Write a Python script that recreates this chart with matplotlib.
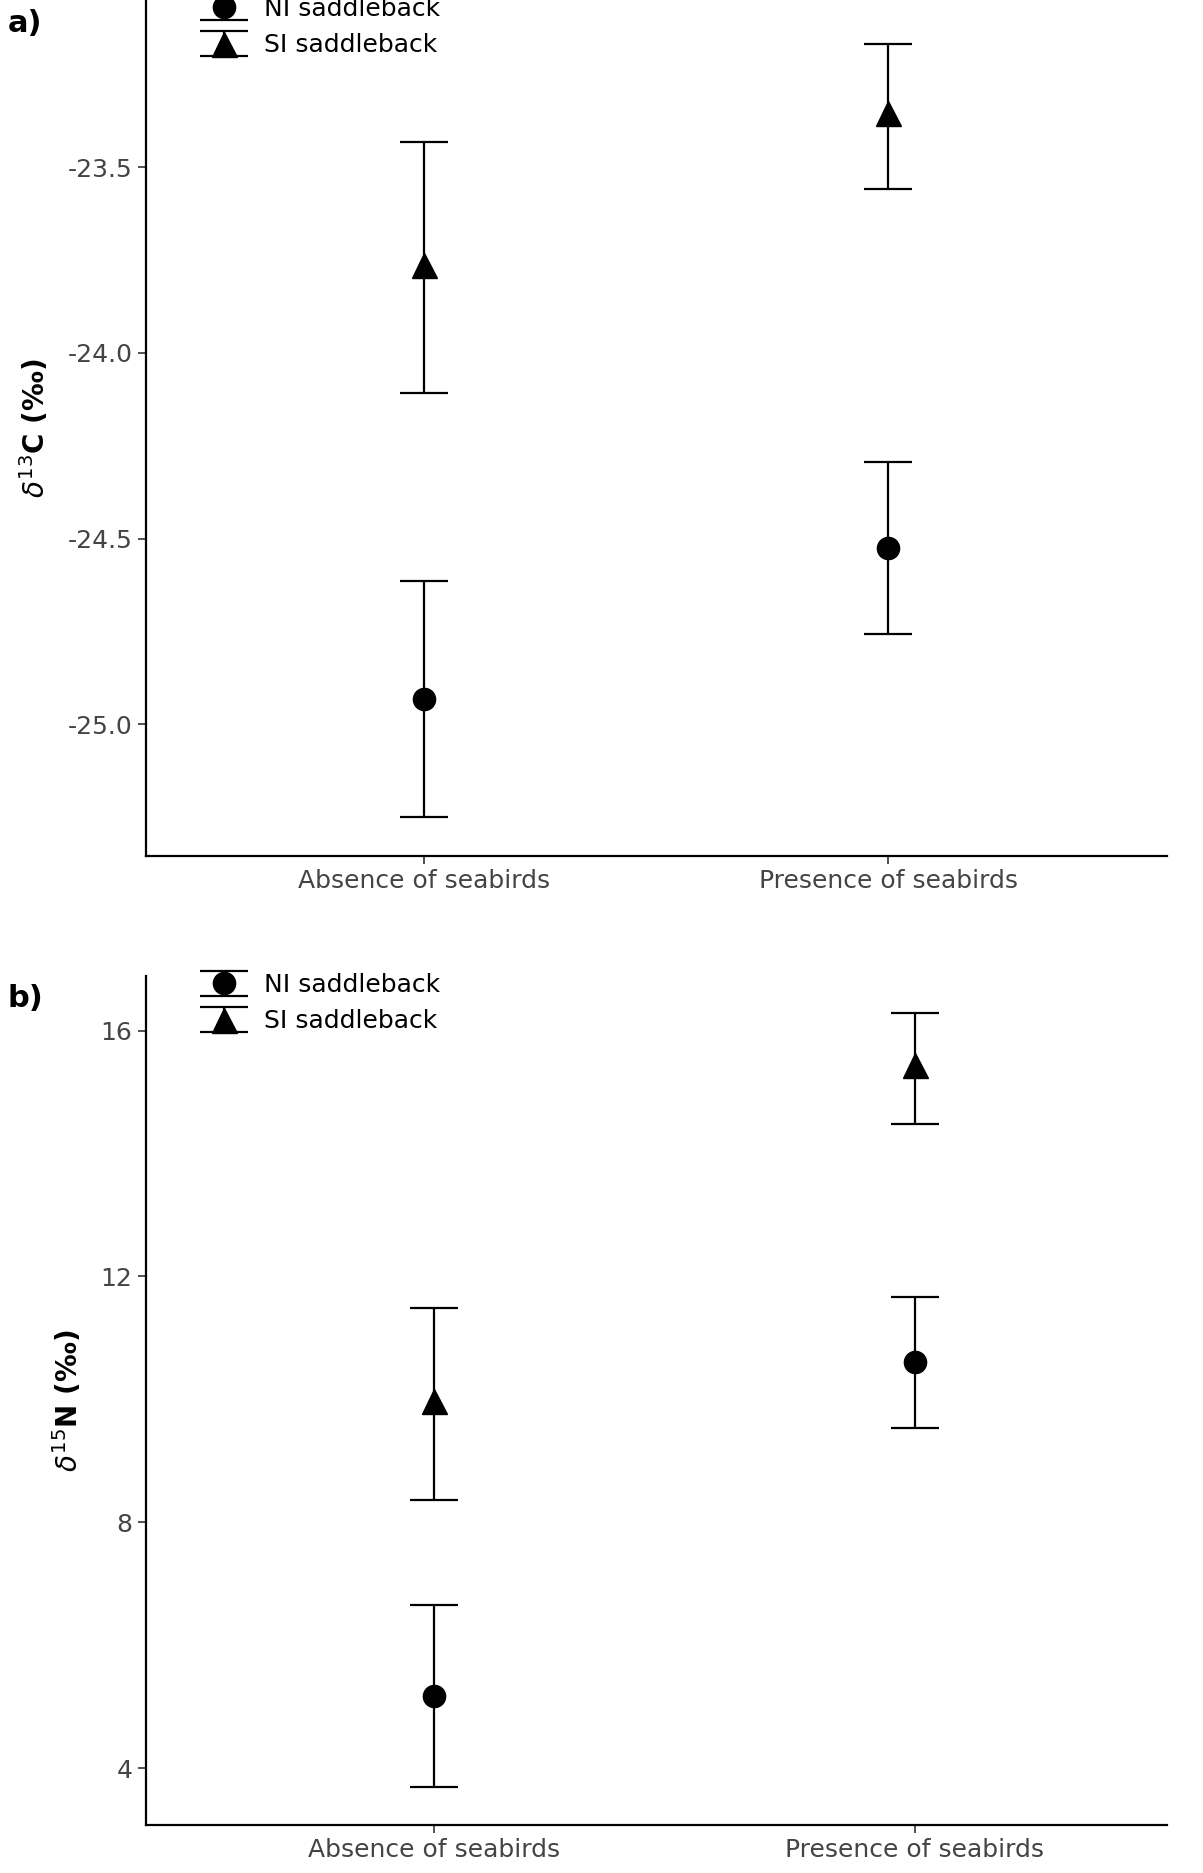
import numpy as np
import matplotlib.pyplot as plt

groups = ['Absence of seabirds', 'Presence of seabirds']
# panel a: d13C
c_ni = [-24.932, -24.526]
c_ni_lo = [-25.25, -24.757]
c_ni_hi = [-24.614, -24.294]
c_si = [-23.764, -23.355]
c_si_lo = [-24.108, -23.558]
c_si_hi = [-23.432, -23.169]
# panel b: d15N
n_ni = [5.17, 10.6]
n_ni_lo = [3.69, 9.53]
n_ni_hi = [6.65, 11.67]
n_si = [9.98, 15.44]
n_si_lo = [8.36, 14.48]
n_si_hi = [11.49, 16.29]

fig = plt.figure(figsize=(12.03, 18.73), dpi=100)
ax1 = fig.add_axes([0.121, 0.543, 0.849, 0.457])
ax2 = fig.add_axes([0.121, 0.0255, 0.849, 0.4535])

def panel(ax, ni, nlo, nhi, si, slo, shi, xlim, ylim, yticks, fmt, ylabel, tag):
    x = np.arange(1, len(groups) + 1)
    ni = np.array(ni); si = np.array(si)
    ax.errorbar(x, ni, yerr=[ni - np.array(nlo), np.array(nhi) - ni], fmt='o', color='black',
                ms=16, capsize=17, elinewidth=1.6, capthick=1.6, label='NI saddleback')
    ax.errorbar(x, si, yerr=[si - np.array(slo), np.array(shi) - si], fmt='^', color='black',
                ms=18, capsize=17, elinewidth=1.6, capthick=1.6, label='SI saddleback')
    ax.set_xlim(xlim); ax.set_ylim(ylim)
    ax.set_xticks(x, groups)
    ax.set_yticks(yticks, [fmt % v for v in yticks])
    for s in ['top', 'right']:
        ax.spines[s].set_visible(False)
    for s in ['left', 'bottom']:
        ax.spines[s].set_linewidth(1.6)
    ax.tick_params(labelsize=18, colors='#333333', length=6, width=1.2)
    ax.tick_params(labelcolor='#444444')
    ax.set_ylabel(ylabel, fontsize=20, fontweight='bold', labelpad=12)
    leg = ax.legend(loc='upper left', bbox_to_anchor=(0.03, 1.03), frameon=False, fontsize=18,
                    handletextpad=0.6, labelspacing=0.5, numpoints=1)
    for h in leg.legend_handles:
        pass
    ax.text(-0.135, 0.99, tag, transform=ax.transAxes, fontsize=22, fontweight='bold', va='top')

panel(ax1, c_ni, c_ni_lo, c_ni_hi, c_si, c_si_lo, c_si_hi, (0.4, 2.6), (-25.354, -23.05),
      [-25.0, -24.5, -24.0, -23.5], '%.1f', r'$\delta^{13}$C (‰)', 'a)')
panel(ax2, n_ni, n_ni_lo, n_ni_hi, n_si, n_si_lo, n_si_hi, (0.4, 2.525), (3.07, 16.89),
      [4, 8, 12, 16], '%d', r'$\delta^{15}$N (‰)', 'b)')

fig.savefig('out.png', dpi=100)
